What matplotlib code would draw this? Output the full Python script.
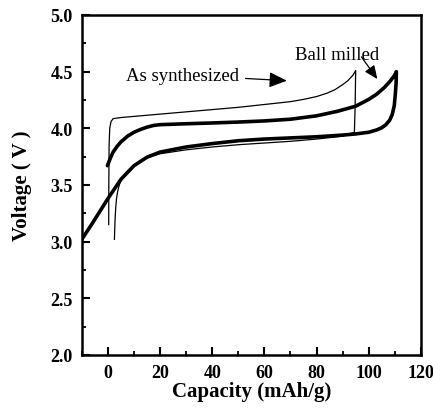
import matplotlib
matplotlib.use("Agg")
import matplotlib.pyplot as plt

# As synthesized (thin line): charge, drop, discharge
syn_cap = [0.3, 0.35, 0.45, 0.7, 1.2, 2.0, 5, 10, 20, 30, 40, 50, 60, 70, 75, 80, 84, 87, 90, 92, 94, 95.0,
           94.8, 94.5, 90, 86, 80, 70, 60, 50, 40, 30, 20, 15, 10, 7, 5.5, 4.5, 3.8, 3.3, 3.0, 2.75, 2.6, 2.5]
syn_v = [3.15, 3.5, 3.85, 4.0, 4.06, 4.085, 4.095, 4.105, 4.125, 4.145, 4.165, 4.185, 4.21, 4.235, 4.255, 4.28, 4.31, 4.34, 4.385, 4.42, 4.47, 4.51,
         4.2, 3.965, 3.93, 3.92, 3.905, 3.885, 3.87, 3.855, 3.835, 3.81, 3.775, 3.74, 3.67, 3.61, 3.56, 3.51, 3.45, 3.38, 3.3, 3.2, 3.1, 3.02]

# Ball milled (thick line): charge then discharge
bm_cap = [-0.2, 1, 2, 3.5, 5, 7.5, 10, 12.5, 15, 17.5, 20, 30, 40, 50, 60, 70, 80, 88, 95, 100, 103, 106, 108, 110, 110.6,
          110.5, 110.2, 109.8, 109, 108, 106.5, 105, 103, 100, 95, 90, 80, 70, 60, 50, 40, 30, 20, 15, 10, 5, 0, -3, -6, -10]
bm_v = [3.67, 3.74, 3.79, 3.84, 3.88, 3.93, 3.965, 3.99, 4.01, 4.025, 4.032, 4.04, 4.047, 4.055, 4.065, 4.08, 4.11, 4.15, 4.195, 4.255, 4.3, 4.36, 4.41, 4.47, 4.5,
        4.4, 4.3, 4.2, 4.12, 4.07, 4.03, 4.005, 3.985, 3.965, 3.95, 3.94, 3.925, 3.915, 3.905, 3.89, 3.865, 3.835, 3.79, 3.745, 3.67, 3.55, 3.38, 3.27, 3.16, 3.02]

x_ticks = [0, 20, 40, 60, 80, 100, 120]
y_ticks = [2.0, 2.5, 3.0, 3.5, 4.0, 4.5, 5.0]

plt.rcParams['font.family'] = ['Liberation Serif', 'DejaVu Serif']

fig = plt.figure(figsize=(4.33, 4.10), dpi=100)
ax = fig.add_axes([0.189, 0.132, 0.783, 0.829])

ax.plot(syn_cap, syn_v, color='black', lw=0.9, solid_joinstyle='round')
ax.plot(bm_cap, bm_v, color='black', lw=2.6, solid_joinstyle='round', solid_capstyle='round')

ax.set_xlim(-10, 120)
ax.set_ylim(2.0, 5.0)
ax.set_xticks(x_ticks)
ax.set_yticks(y_ticks)
ax.set_xticks([-10, 10, 30, 50, 70, 90, 110], minor=True)
ax.set_yticks([2.25, 2.75, 3.25, 3.75, 4.25, 4.75], minor=True)
ax.set_xticklabels([str(t) for t in x_ticks], fontweight='bold', fontsize=13)
ax.set_yticklabels([f"{t:.1f}" for t in y_ticks], fontweight='bold', fontsize=13)
ax.tick_params(which='major', direction='in', length=6, width=1.5, top=False, right=False, pad=6.5)
ax.tick_params(which='minor', direction='in', length=3, width=1.3, top=False, right=False)
for s in ax.spines.values():
    s.set_linewidth(1.8)

ax.set_xlabel('Capacity (mAh/g)', fontweight='bold', fontsize=15, labelpad=0)
ax.set_ylabel('Voltage ( V )', fontweight='bold', fontsize=15, labelpad=13)

ax.annotate('As synthesized', xy=(68.6, 4.42), xytext=(6.8, 4.47), fontsize=13.5,
            va='center', ha='left',
            arrowprops=dict(arrowstyle='-|>,head_length=0.8,head_width=0.35', color='black', lw=0.9,
                            shrinkA=3, shrinkB=0))
ax.annotate('', xy=(103.3, 4.435), xytext=(97.2, 4.63),
            arrowprops=dict(arrowstyle='-|>,head_length=0.8,head_width=0.35', color='black', lw=0.9,
                            shrinkA=0, shrinkB=0))
ax.text(71.6, 4.65, 'Ball milled', fontsize=13.5, va='center', ha='left')

fig.savefig('out.png', dpi=100)
